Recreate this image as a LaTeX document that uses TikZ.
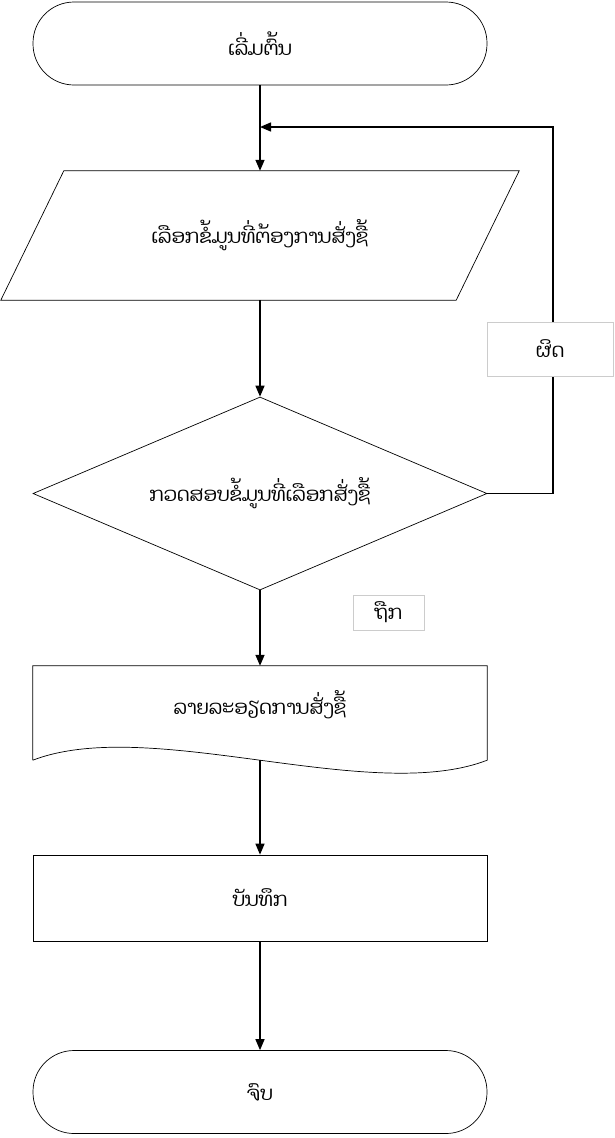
\documentclass[tikz,border=0pt]{standalone}
\usepackage{fontspec}
\newfontfamily\laofont[Script=Lao]{Dhyana}
\usetikzlibrary{shapes.geometric,arrows.meta}
\definecolor{tagline}{HTML}{CCCCCC}
\begin{document}
\begin{tikzpicture}[x=1pt,y=-1pt,
  font=\laofont\fontsize{19.5}{22}\selectfont,
  shapeline/.style={draw=black, line width=0.7pt},
  terminal/.style={shapeline, rectangle, rounded corners=41pt,
    minimum width=454pt, minimum height=83pt, inner sep=0pt},
  procbox/.style={shapeline, rectangle, minimum width=454pt,
    minimum height=86pt, inner sep=0pt},
  plain/.style={rectangle, inner sep=0pt},
  decision/.style={shapeline, diamond, aspect=2.35, inner sep=0pt,
    minimum width=454pt, minimum height=193pt},
  flow/.style={line width=1.4pt, -{Triangle[length=11pt,width=9pt]}},
  tag/.style={draw=tagline, fill=white, line width=0.7pt, inner sep=0pt}]
\useasboundingbox (0,0) rectangle (614,1138);

% start terminal
\node[terminal] (start) at (260,43.5) {ເລີ່ມຕົ້ນ};

% input parallelogram: text node plus its outline
\node[plain, minimum width=518pt, minimum height=129pt] (pick) at (260,235.5) {ເລືອກຂໍ້ມູນທີ່ຕ້ອງການສັ່ງຊື້};
\draw[shapeline] ([xshift=63pt]pick.north west) -- (pick.north east)
  -- ([xshift=-63pt]pick.south east) -- (pick.south west) -- cycle;

% decision
\node[decision] (check) at (260,493.5) {ກວດສອບຂໍ້ມູນທີ່ເລືອກສັ່ງຊື້};

% document shape with wavy bottom
\node[plain, minimum width=454pt, minimum height=94pt] (detail) at (260,713) {};
\node (detailtext) at (260,705) {ລາຍລະອຽດການສັ່ງຊື້};
\draw[shapeline] (detail.south west) -- (detail.north west) -- (detail.north east)
  -- (detail.south east)
  .. controls ([xshift=-117pt,yshift=-45pt]detail.south east)
  and ([xshift=117pt,yshift=45pt]detail.south west) .. (detail.south west);

% save process
\node[procbox] (save) at (260,898) {ບັນທຶກ};

% end terminal
\node[terminal] (stop) at (260,1092) {ຈົບ};

% connectors
\coordinate (join) at (260,127);
\draw[flow] (start.south) -- (pick.north);
\draw[flow] (pick.south) -- (check.north);
\draw[flow] (check.south) -- (detail.north);
\draw[flow] (detail.south) -- (save.north);
\draw[flow] (save.south) -- (stop.north);
\draw[flow] (check.east) -- (553,493.5) -- (553,127) -- (join);

% branch labels
\node[tag, minimum width=126pt, minimum height=54pt] (wrong) at (550,349) {ຜິດ};
\node[tag, minimum width=71pt, minimum height=35pt] (right) at (388.5,612.5) {ຖືກ};
\end{tikzpicture}
\end{document}
